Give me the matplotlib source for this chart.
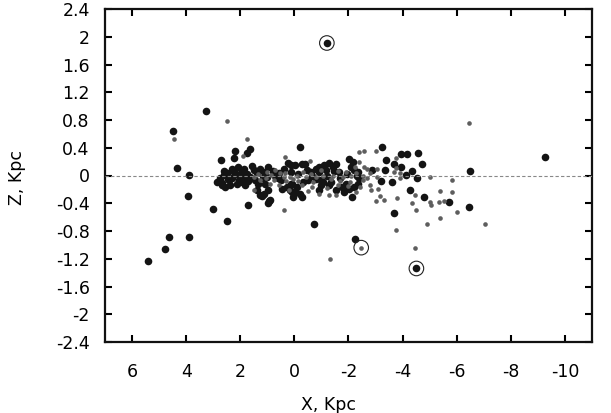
import matplotlib
matplotlib.use("Agg")
import matplotlib.pyplot as plt

# big black dots
black_x = [3.28, 4.50, 4.34, 3.88, 2.72, 2.85, 3.94, 2.99, 4.63, 3.88, 4.79, 5.41, 2.50,
           2.19, 1.63, 1.76, 2.23, -0.21, 0.22, -0.40, 2.68,
           1.20, 0.92, 0.96, 1.72, -0.71, 1.39, -0.27, 0.10,
           1.57, 2.07, 2.25, 2.50, 2.62, 2.68, 2.56, 2.38, 2.13, 1.94, 1.82, 1.88, 1.63, 1.39,
           1.26, 1.14, 0.96, 1.33, 1.08, 0.96, 1.14, 1.26, 0.89, 0.45, 0.27, 0.14, 0.51, 0.57,
           0.39, 0.14,
           -0.27, -0.02, 0.14, -0.90, -1.10, -1.29, -1.41, -1.54, -1.66, -2.03, -2.09, -2.16,
           -0.60, -0.79, -0.91, 0.10, 0.16, -0.02, -0.21, 0.04, -0.09, -0.33, -0.52, -0.91,
           -0.97, -1.28, -1.53, -1.84, -2.03, -2.21, -2.34, -1.90, -1.05, -1.36, -2.13,
           2.30, 2.00, 1.00, 0.70, -1.20, -1.70, -2.30, -0.80, -2.35, 2.45, 2.05, 1.75,
           2.75, 2.40, 2.15, 1.95, 1.70, 1.50, 0.80, 0.60, -0.45, -1.00, -1.45, -1.95, -2.20,
           2.60, 2.30, 1.85, 1.45, 1.15, 0.75, -0.15, -0.65, -1.15, -1.75, -2.40,
           -3.24, -3.40, -3.36, -3.94, -4.16, -4.56, -3.67, -3.94, -4.71, -4.36, -4.14, -4.53,
           -2.88, -3.21, -3.60, -6.50, -4.28, -4.80, -5.70, -6.44, -3.67, -2.25, -9.28]
black_z = [0.93, 0.64, 0.11, 0.01, 0.22, -0.10, -0.30, -0.49, -0.88, -0.88, -1.06, -1.23, -0.66,
           0.36, 0.38, 0.33, 0.25, 0.41, 0.18, 0.16, -0.14,
           -0.30, -0.37, -0.40, -0.42, -0.70, -0.21, -0.31, -0.24,
           0.13, 0.12, 0.05, 0.03, 0.01, -0.11, -0.16, -0.14, -0.12, -0.09, -0.13, -0.03, -0.02, 0.03,
           0.10, 0.05, 0.12, -0.12, -0.12, -0.21, -0.26, -0.28, -0.36, -0.19, -0.16, -0.12, -0.07, 0.03,
           0.10, 0.15,
           0.17, 0.15, 0.05, 0.12, 0.15, 0.18, 0.12, 0.17, 0.05, 0.24, 0.12, 0.20,
           0.05, 0.10, 0.05, -0.12, -0.21, -0.24, -0.26, -0.31, -0.16, -0.09, -0.07, -0.21,
           -0.14, -0.14, -0.21, -0.24, -0.19, -0.16, -0.12, -0.12, -0.09, -0.09, -0.31,
           -0.03, 0.00, -0.02, 0.00, 0.00, -0.03, 0.00, -0.05, 0.05, -0.05, -0.06, 0.02,
           -0.04, -0.07, 0.02, 0.06, -0.08, 0.08, 0.06, -0.04, 0.08, -0.06, 0.06, 0.02, 0.08,
           0.06, 0.10, 0.10, -0.06, -0.04, 0.04, 0.02, 0.00, 0.08, -0.16, -0.04,
           0.41, 0.23, 0.08, 0.31, 0.31, 0.33, 0.17, 0.12, 0.16, 0.07, 0.01, -0.03,
           0.08, -0.08, -0.09, 0.06, -0.21, -0.31, -0.38, -0.45, -0.54, -0.92, 0.27]

# small gray dots
gray_x = [4.44, 2.50, 1.76, 1.91, 0.36, -0.56, 0.40, -6.44, -2.58, -3.01, -3.75, -5.02, -5.83,
          -5.83, -5.39, -4.47, -5.02, -5.04, -5.33, -5.52, -4.34, -3.79, -3.17, -3.30, -3.02,
          -2.83, -3.09, -4.50, -6.01, -5.37, -4.90, -7.03, -3.77, -4.46, -1.30,
          -3.77, -2.68, -2.80, -2.68, -3.05, -2.80, -3.67, -3.91, -3.91, -2.58, -3.05,
          -2.40, -2.40, -2.25, -0.44, -0.81, -1.06, -1.43, -1.80, -2.11, -2.29, -2.54, -0.09,
          0.16, 0.35, -0.27, -0.64, -0.70, -1.62, -2.06, -2.43, -2.55, -0.90, -1.28, -1.52,
          -2.27, 1.51, 1.26, 0.77, 0.40, 0.57, 0.20, 1.51,
          1.00, 0.70, -0.30, -1.00, -1.90, 0.90, -0.50, -1.70, 0.30, -1.20,
          1.35, 1.05, 0.55, 0.05, -0.60, -1.35, -2.00, 0.85, -0.15, -1.60]
gray_z = [0.52, 0.78, 0.52, 0.28, 0.26, 0.21, -0.50, 0.76, 0.35, 0.35, 0.25, -0.02, -0.07,
          -0.24, -0.22, -0.28, -0.38, -0.43, -0.38, -0.37, -0.40, -0.32, -0.30, -0.35, -0.37,
          -0.21, -0.20, -0.50, -0.52, -0.61, -0.70, -0.70, -0.79, -1.05, -1.21,
          0.11, 0.10, 0.03, -0.04, -0.02, -0.14, 0.05, -0.04, 0.03, 0.12, 0.09,
          0.34, 0.20, 0.12, -0.02, -0.02, -0.01, 0.00, -0.02, 0.00, 0.03, 0.00, 0.00,
          -0.02, 0.03, -0.14, -0.16, -0.09, -0.14, -0.09, -0.16, -0.07, -0.26, -0.28, -0.28,
          -0.24, -0.02, -0.07, -0.07, -0.02, -0.14, -0.21, -0.21,
          0.05, 0.08, 0.05, 0.08, 0.05, -0.12, -0.22, -0.08, -0.08, -0.18,
          0.02, -0.03, 0.04, -0.05, 0.02, -0.05, -0.15, 0.01, -0.08, 0.06]

# circled objects
circ_black_x = [-1.20, -4.51]
circ_black_z = [1.91, -1.34]
circ_gray_x = [-2.47]
circ_gray_z = [-1.04]

plt.rcParams['axes.unicode_minus'] = False
plt.rcParams['font.family'] = 'DejaVu Sans'

fig = plt.figure(figsize=(6.11, 4.13), dpi=100)
ax = fig.add_axes([105 / 611, 71 / 413, 487 / 611, 333 / 413])

ax.scatter(black_x, black_z, s=30, c='#141414', linewidths=0, zorder=2)
ax.scatter(circ_black_x, circ_black_z, s=30, c='#141414', linewidths=0, zorder=2)
ax.scatter(gray_x, gray_z, s=11, c='#5e5e5e', linewidths=0, zorder=3)
ax.scatter(circ_gray_x, circ_gray_z, s=11, c='#5e5e5e', linewidths=0, zorder=3)
ax.scatter(circ_black_x + circ_gray_x, circ_black_z + circ_gray_z, s=110,
           facecolors='none', edgecolors='#222222', linewidths=0.8, zorder=4)

ax.axhline(0, color='#888888', lw=0.8, ls=(0, (3, 2)), zorder=5)

ax.set_xlim(7, -11)
ax.set_ylim(-2.4, 2.4)
ax.set_xticks([6, 4, 2, 0, -2, -4, -6, -8, -10])
ax.set_yticks([2.4, 2, 1.6, 1.2, 0.8, 0.4, 0, -0.4, -0.8, -1.2, -1.6, -2, -2.4])
ax.set_yticklabels(['2.4', '2', '1.6', '1.2', '0.8', '0.4', '0', '-0.4', '-0.8',
                    '-1.2', '-1.6', '-2', '-2.4'])
ax.tick_params(direction='in', length=5, width=1.5, top=True, right=True, labelsize=12.5)
ax.tick_params(axis='x', pad=15)
ax.tick_params(axis='y', pad=11)
for sp in ax.spines.values():
    sp.set_linewidth(1.6)
    sp.set_color('#111111')

ax.set_xlabel('X, Kpc', fontsize=12.5)
ax.set_ylabel('Z, Kpc', fontsize=12.5)
ax.xaxis.set_label_coords(0.458, -0.163)
ax.yaxis.set_label_coords(-0.163, 0.495)

fig.savefig('out.png', dpi=100)
